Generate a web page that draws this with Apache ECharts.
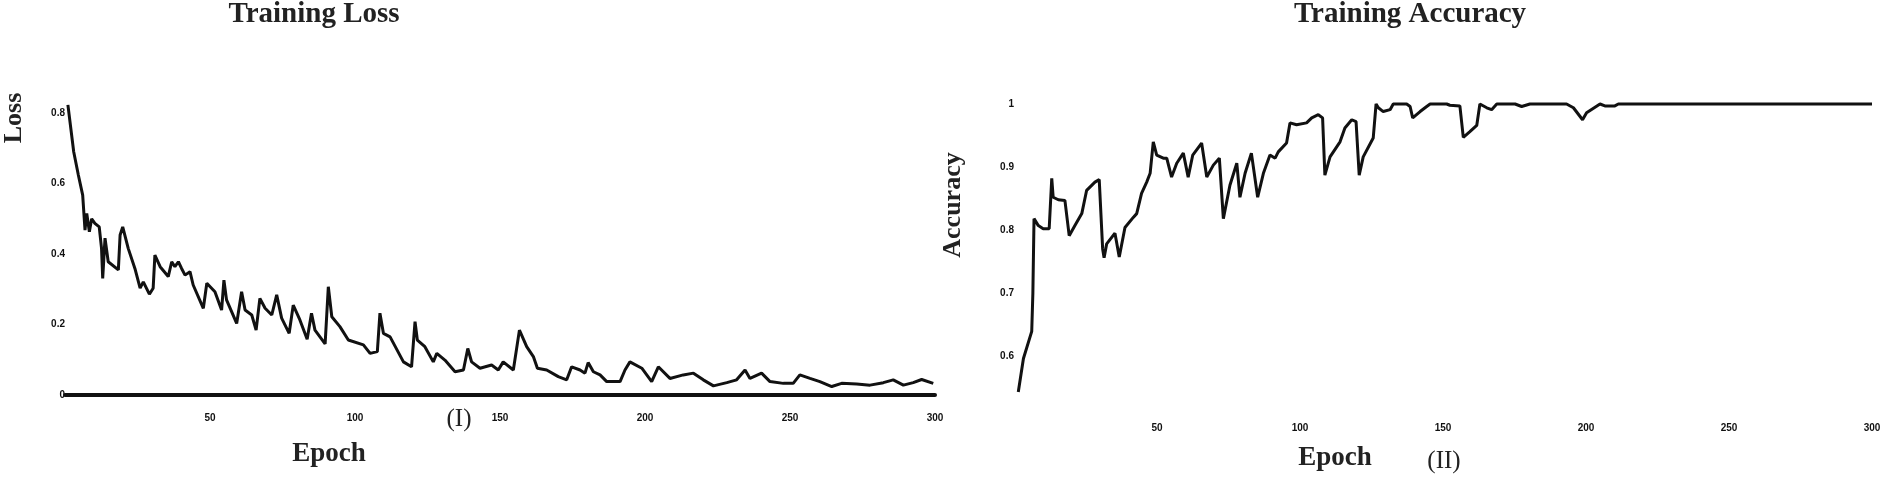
<!DOCTYPE html>
<html>
<head>
<meta charset="utf-8">
<script src="https://cdn.jsdelivr.net/npm/echarts@6/dist/echarts.min.js"></script>
<style>
  html, body { margin: 0; padding: 0; background: #fff; }
  #chart { width: 1886px; height: 477px; }
</style>
</head>
<body>
<div id="chart"></div>
<script>
// training loss: [epoch, loss]
const lossEpochs = [1, 3, 4.6, 6.1, 6.9, 7.5, 8.4, 9.2, 10.3, 11.8, 12.6, 13, 13.8, 14.9, 18.4, 19, 19.9, 21.8, 24.1, 25.9,
  27, 29.1, 30.4, 31, 32.8, 35.6, 36.8, 37.9, 39.1, 40.2, 41.4, 43.1, 44.2, 47.7, 48.9, 51.7, 54, 54.8, 55.7, 59.2,
  60.9, 62.1, 64.4, 65.9, 67.2, 69, 71.3, 73, 74.7, 77.3, 78.7, 81, 83.5, 85, 86.2, 89.7, 90.8, 92, 94.8, 97.7,
  102.9, 105.2, 107.7, 108.6, 109.8, 112.1, 116.7, 119.5, 120.7, 121.5, 124.1, 127, 128.2, 131, 134.5, 137.4, 138.9, 140.2, 143.1, 147.1,
  149.4, 151.1, 154.6, 156.7, 159.2, 161.5, 162.9, 166.1, 170.1, 173, 174.7, 177.6, 179.3, 180.4, 182.2, 184.5, 186.8, 191.4, 193.1, 194.8,
  198.9, 202.3, 204.6, 208.6, 213.2, 216.7, 220.1, 223.6, 228.2, 231.6, 234.5, 236.2, 240.2, 243.1, 247.7, 251.1, 253.4, 256.9, 260.3, 264.4,
  267.8, 273, 277.6, 282.2, 285.6, 289.1, 292.5, 295.4, 299.4];
const lossValues = [0.823, 0.69, 0.624, 0.567, 0.468, 0.515, 0.463, 0.5, 0.487, 0.477, 0.416, 0.331, 0.445, 0.378, 0.355, 0.454, 0.477, 0.416, 0.359, 0.303,
  0.321, 0.286, 0.303, 0.397, 0.364, 0.336, 0.378, 0.364, 0.378, 0.359, 0.34, 0.35, 0.312, 0.246, 0.317, 0.293, 0.241, 0.326, 0.27, 0.203,
  0.293, 0.241, 0.227, 0.184, 0.274, 0.246, 0.227, 0.284, 0.218, 0.175, 0.255, 0.213, 0.158, 0.232, 0.184, 0.145, 0.307, 0.222, 0.194, 0.156,
  0.142, 0.118, 0.123, 0.232, 0.175, 0.165, 0.094, 0.08, 0.208, 0.156, 0.137, 0.094, 0.118, 0.099, 0.066, 0.071, 0.132, 0.094, 0.076, 0.085,
  0.071, 0.094, 0.071, 0.184, 0.137, 0.109, 0.076, 0.071, 0.052, 0.043, 0.08, 0.071, 0.062, 0.092, 0.066, 0.057, 0.038, 0.038, 0.071, 0.094,
  0.076, 0.038, 0.08, 0.047, 0.057, 0.062, 0.043, 0.026, 0.035, 0.043, 0.071, 0.047, 0.062, 0.038, 0.033, 0.033, 0.057, 0.047, 0.038, 0.024,
  0.033, 0.031, 0.028, 0.035, 0.043, 0.028, 0.035, 0.044, 0.033];

// training accuracy: [epoch, accuracy]
const accEpochs = [1.5, 3.3, 6.2, 6.6, 7, 8.5, 10.2, 12.3, 13.2, 13.7, 15.5, 17.8, 19.3, 21.3, 23.7, 25.4, 28.3, 29.8, 31, 31.5,
  32.4, 35.3, 36.8, 38.8, 41.7, 42.9, 44.6, 46.4, 47.6, 48.7, 49.9, 52.2, 53.4, 55.1, 56.9, 59.2, 60.9, 62.5, 65.6, 67.4,
  69.7, 71.8, 73.2, 75.5, 77.9, 79, 80.8, 83, 85.2, 87.2, 89.5, 91.3, 92.4, 95.3, 96.5, 98.8, 102.3, 104.1, 106.4, 107.9,
  108.7, 110.5, 114, 115.7, 118.1, 119.6, 120.7, 122.1, 125.6, 126.6, 127.4, 129.1, 131.5, 132.6, 137.3, 138.5, 139.4, 142, 144.3, 145.5,
  151.3, 152.4, 155.9, 157.1, 159.4, 161.8, 162.9, 165.3, 167, 168.8, 175.2, 177.5, 180.4, 193.2, 195.6, 198.8, 200.2, 204.9, 206.6, 210.1,
  211.3, 300];
const accValues = [0.543, 0.596, 0.639, 0.7, 0.818, 0.807, 0.802, 0.802, 0.882, 0.852, 0.848, 0.847, 0.791, 0.807, 0.826, 0.863, 0.876, 0.88, 0.77, 0.756,
  0.778, 0.795, 0.757, 0.804, 0.82, 0.826, 0.858, 0.876, 0.89, 0.94, 0.919, 0.914, 0.914, 0.884, 0.906, 0.922, 0.884, 0.919, 0.938, 0.884,
  0.903, 0.914, 0.818, 0.871, 0.906, 0.852, 0.89, 0.922, 0.852, 0.89, 0.919, 0.914, 0.924, 0.938, 0.97, 0.967, 0.97, 0.978, 0.983, 0.978,
  0.887, 0.916, 0.94, 0.962, 0.975, 0.972, 0.887, 0.916, 0.946, 1.0, 0.994, 0.988, 0.991, 1.0, 1.0, 0.996, 0.978, 0.988, 0.996, 1.0,
  1.0, 0.998, 0.997, 0.947, 0.956, 0.966, 1.0, 0.994, 0.991, 1.0, 1.0, 0.996, 1.0, 1.0, 0.994, 0.975, 0.986, 1.0, 0.997, 0.997,
  1.0, 1.0];

const lossTicks = [0, 0.2, 0.4, 0.6, 0.8];
const accTicks = [0.6, 0.7, 0.8, 0.9, 1];
const epochTicks = [50, 100, 150, 200, 250, 300];

const serif = '"Liberation Serif", "Times New Roman", serif';
const tickFont = { color: '#111', fontSize: 10, fontWeight: 'bold', fontFamily: 'Arial, "Liberation Sans", sans-serif' };

function zip(xs, ys) {
  return xs.map((x, i) => [x, ys[i]]);
}

const chart = echarts.init(document.getElementById('chart'));

chart.setOption({
  animation: false,
  backgroundColor: '#fff',
  grid: [
    { left: 65, top: 113, width: 870, height: 282 },
    { left: 1014, top: 104, width: 858, height: 315 }
  ],
  xAxis: [
    {
      gridIndex: 0, type: 'value', min: 0, max: 300, interval: 50,
      axisLine: { show: true, lineStyle: { color: '#111', width: 4 } },
      axisTick: { show: false }, splitLine: { show: false },
      axisLabel: Object.assign({ margin: 18, formatter: v => epochTicks.includes(v) ? String(v) : '' }, tickFont)
    },
    {
      gridIndex: 1, type: 'value', min: 0, max: 300, interval: 50,
      axisLine: { show: false }, axisTick: { show: false }, splitLine: { show: false },
      axisLabel: Object.assign({ margin: 4, formatter: v => epochTicks.includes(v) ? String(v) : '' }, tickFont)
    }
  ],
  yAxis: [
    {
      gridIndex: 0, type: 'value', min: 0, max: 0.8, interval: 0.2,
      axisLine: { show: false }, axisTick: { show: false }, splitLine: { show: false },
      axisLabel: Object.assign({ margin: 0, formatter: v => lossTicks.includes(+v.toFixed(1)) ? String(+v.toFixed(1)) : '' }, tickFont)
    },
    {
      gridIndex: 1, type: 'value', min: 0.5, max: 1, interval: 0.1,
      axisLine: { show: false }, axisTick: { show: false }, splitLine: { show: false },
      axisLabel: Object.assign({ margin: 0, formatter: v => accTicks.includes(+v.toFixed(1)) ? String(+v.toFixed(1)) : '' }, tickFont)
    }
  ],
  series: [
    {
      type: 'line', xAxisIndex: 0, yAxisIndex: 0, data: zip(lossEpochs, lossValues),
      showSymbol: false, clip: false, lineStyle: { color: '#111', width: 3 }
    },
    {
      type: 'line', xAxisIndex: 1, yAxisIndex: 1, data: zip(accEpochs, accValues),
      showSymbol: false, clip: false, lineStyle: { color: '#111', width: 3 }
    }
  ],
  graphic: [
    { type: 'text', x: 314, y: 15, style: { text: 'Training Loss', font: 'bold 29px ' + serif, fill: '#222', align: 'center', verticalAlign: 'middle' } },
    { type: 'text', x: 1410, y: 15, style: { text: 'Training Accuracy', font: 'bold 29px ' + serif, fill: '#222', align: 'center', verticalAlign: 'middle' } },
    { type: 'text', x: 14, y: 118, rotation: Math.PI / 2, style: { text: 'Loss', font: 'bold 26px ' + serif, fill: '#222', align: 'center', verticalAlign: 'middle' } },
    { type: 'text', x: 953, y: 205, rotation: Math.PI / 2, style: { text: 'Accuracy', font: 'bold 26px ' + serif, fill: '#222', align: 'center', verticalAlign: 'middle' } },
    { type: 'text', x: 329, y: 454, style: { text: 'Epoch', font: 'bold 27px ' + serif, fill: '#222', align: 'center', verticalAlign: 'middle' } },
    { type: 'text', x: 1335, y: 458, style: { text: 'Epoch', font: 'bold 27px ' + serif, fill: '#222', align: 'center', verticalAlign: 'middle' } },
    { type: 'text', x: 459, y: 419, style: { text: '(I)', font: '25px ' + serif, fill: '#222', align: 'center', verticalAlign: 'middle' } },
    { type: 'text', x: 1444, y: 461, style: { text: '(II)', font: '25px ' + serif, fill: '#222', align: 'center', verticalAlign: 'middle' } }
  ]
});
</script>
</body>
</html>
